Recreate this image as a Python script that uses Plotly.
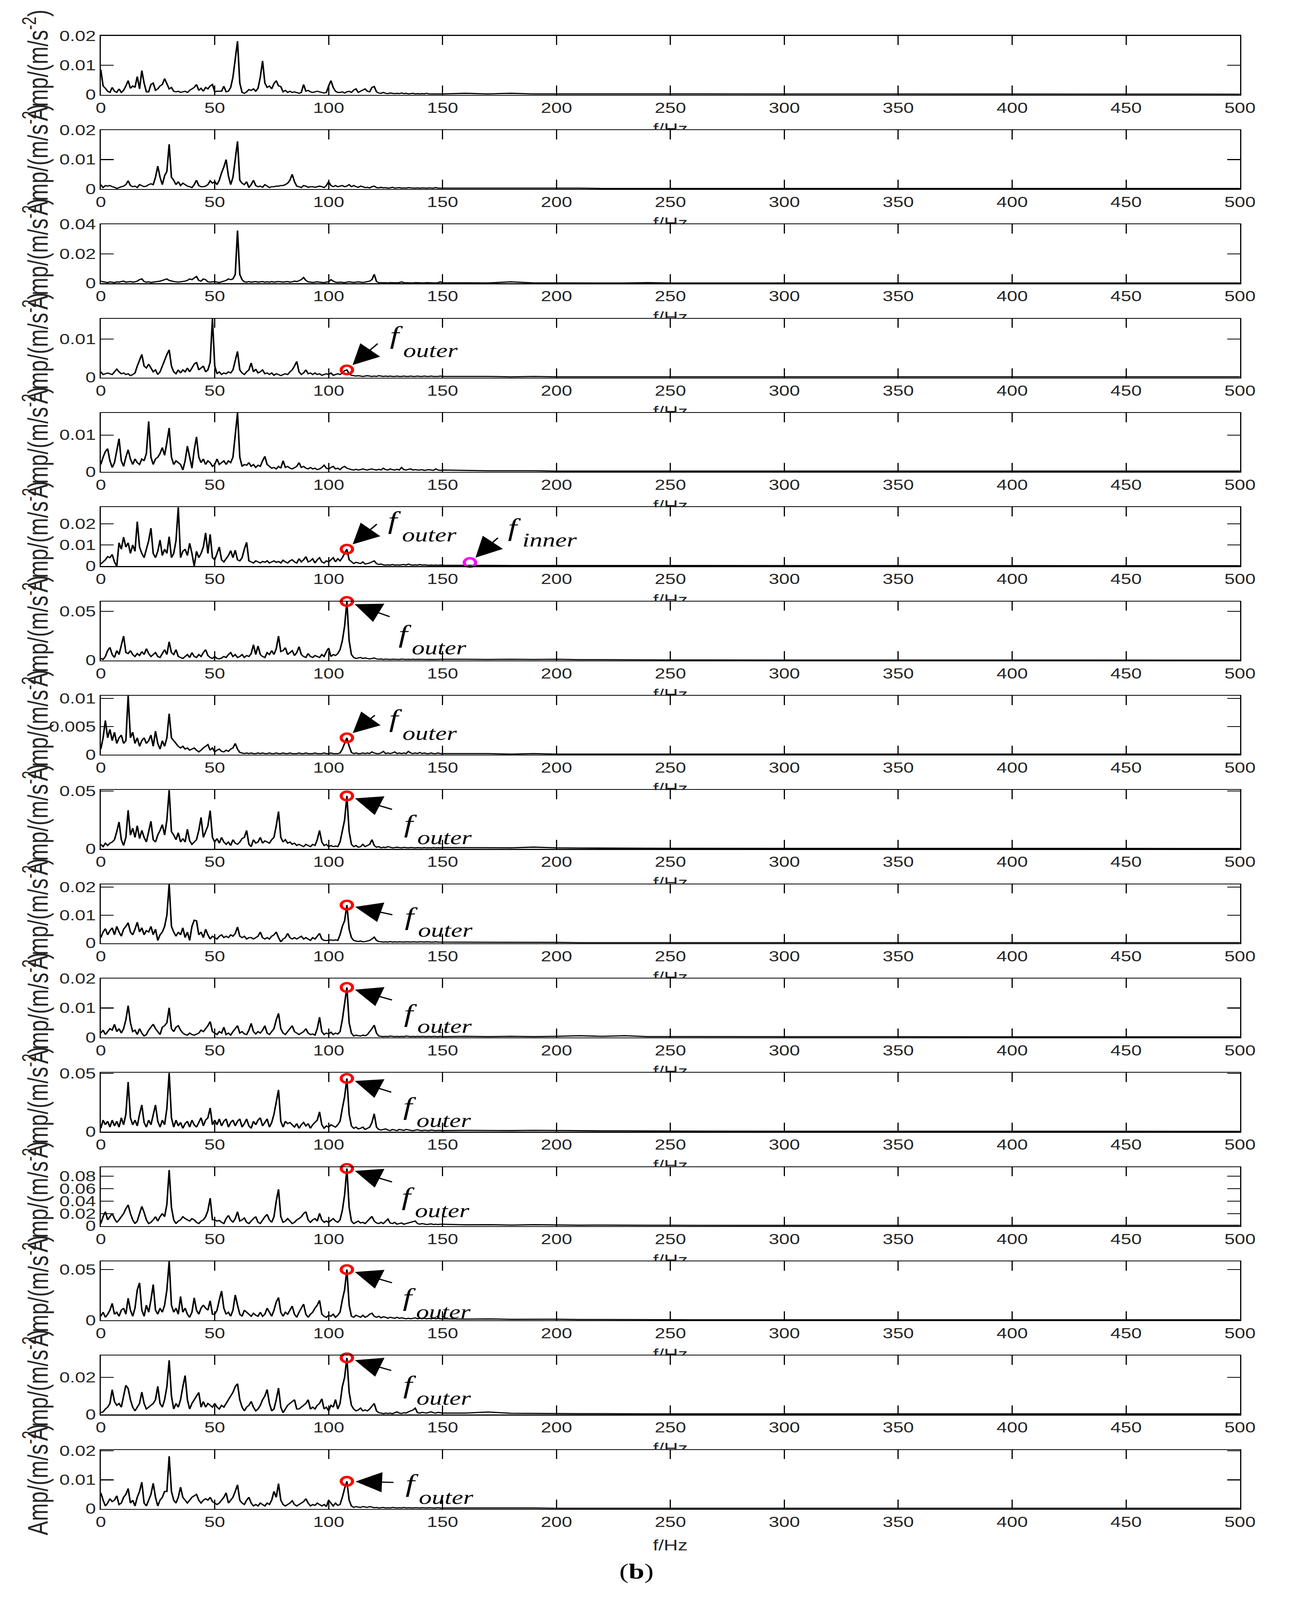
import plotly.graph_objects as go

W, H = 3317, 5403
UNIT = 1e-4  # amplitude values below are in units of 1e-4 m/s^2

FREQ_HEAD = list(range(0, 151))          # Hz, 1 Hz bins
FREQ_TAIL = list(range(160, 501, 10))    # Hz, coarse tail
X_TICKS = list(range(0, 501, 50))

AMP01_HEAD = [85,30,22,12,8,25,12,8,20,8,
              15,30,48,22,30,25,62,20,82,40,
              10,10,35,40,15,20,30,35,55,38,
              20,25,12,10,12,8,10,12,8,15,
              20,25,35,15,22,12,25,20,30,35,
              10,12,12,12,29,10,12,25,60,120,
              182,40,8,5,10,18,15,20,12,22,
              60,115,40,25,30,20,38,48,30,28,
              10,15,8,12,8,10,8,5,8,35,
              12,15,10,8,10,12,10,8,6,8,
              30,48,25,12,8,8,10,6,10,12,
              8,16,20,8,12,15,20,12,10,25,
              28,10,6,5,8,5,4,6,5,4,
              5,4,6,4,5,3,4,5,3,4,
              3,4,3,5,3,3,4,3,3,4,
              3]
AMP01_TAIL = [5,3,5,3,3,3,2,3,2,2, 2,2,2,2,2,2,2,2,2,2, 2,2,2,2,2,2,2,2,2,2, 2,2,2,2,2]

AMP02_HEAD = [15,5,12,10,12,8,6,2,5,8,
              10,15,28,12,8,10,5,15,12,8,
              10,15,18,15,40,78,40,15,45,60,
              152,40,30,15,25,12,20,15,10,8,
              5,15,30,12,8,8,10,15,28,20,
              25,15,30,55,75,100,45,15,40,100,
              162,30,20,15,25,5,15,30,12,8,
              10,6,15,10,5,8,8,10,10,12,
              12,15,20,30,50,25,10,8,5,12,
              10,6,8,8,6,8,10,8,5,12,
              25,12,8,12,8,10,12,8,10,15,
              8,12,8,6,10,8,5,6,4,8,
              10,5,4,6,4,5,3,4,6,3,
              4,5,3,4,3,5,4,3,3,4,
              3,4,3,3,4,3,3,5,3,3,
              3]
AMP02_TAIL = [4,3,4,3,3,3,2,2,2,2, 2,2,2,2,2,2,2,2,2,2, 2,2,2,2,2,2,2,2,2,2, 2,2,2,2,2]

AMP03_HEAD = [15,10,8,5,10,8,5,10,8,12,
              15,8,10,12,8,10,15,25,30,12,
              8,10,6,8,10,12,15,20,25,30,
              20,15,12,10,8,10,12,15,20,30,
              25,35,47,20,15,30,25,10,8,10,
              12,8,6,10,15,20,30,25,30,60,
              358,60,25,10,8,12,8,10,12,8,
              10,12,8,10,8,12,8,10,12,10,
              8,10,12,8,10,15,12,18,25,40,
              20,10,8,6,8,10,8,6,5,8,
              10,25,15,8,6,8,6,5,8,10,
              8,6,8,10,8,6,8,12,15,25,
              61,12,5,4,5,4,3,5,4,3,
              4,5,10,5,4,3,4,3,5,4,
              3,4,3,5,4,3,4,3,4,10,
              4]
AMP03_TAIL = [4,3,10,3,3,3,3,2,5,2, 2,2,2,2,2,2,2,2,2,2, 2,2,2,2,2,2,2,2,2,2, 2,2,2,2,2]

AMP04_HEAD = [15,8,10,12,10,8,15,22,15,10,
              12,8,10,5,8,12,30,45,60,30,
              25,35,25,15,20,8,15,30,45,60,
              72,30,15,10,20,12,20,15,25,15,
              25,35,40,20,25,30,15,20,40,153,
              30,10,15,8,12,10,15,12,20,45,
              68,20,12,8,15,20,38,15,22,12,
              15,20,10,12,8,12,6,10,8,5,
              8,10,8,15,20,30,42,15,8,12,
              20,10,12,8,12,8,10,6,8,10,
              8,12,6,8,10,8,12,18,20,10,
              6,5,4,5,4,3,4,5,4,3,
              4,3,5,4,3,4,3,4,3,3,
              4,3,3,4,3,3,4,3,3,4,
              3,3,4,3,3,4,3,3,3,4,
              3]
AMP04_TAIL = [3,3,2,3,2,2,2,2,2,2, 2,2,2,2,2,2,2,2,2,2, 2,2,2,2,2,2,2,2,2,2, 2,2,2,2,2]

AMP05_HEAD = [20,40,55,63,30,12,25,60,90,30,
              15,40,60,35,20,35,25,20,35,30,
              50,137,40,20,35,40,50,66,45,80,
              119,40,20,30,25,20,5,30,70,40,
              10,60,95,40,25,35,20,30,25,15,
              20,35,20,25,30,20,30,25,40,100,
              160,40,15,20,18,25,15,20,12,18,
              15,30,42,20,15,10,12,8,15,10,
              30,12,15,10,8,12,15,25,12,15,
              10,8,12,8,10,6,8,12,18,10,
              8,12,15,8,10,6,12,15,10,8,
              6,5,7,5,6,8,6,5,7,8,
              6,5,7,5,10,6,5,8,6,5,
              7,5,12,6,5,7,8,5,6,5,
              5,6,4,5,6,5,4,8,5,4,
              5]
AMP05_TAIL = [4,3,3,3,2,2,2,2,2,2, 2,2,2,2,2,2,2,2,2,2, 2,2,2,2,2,2,2,2,2,2, 2,2,2,2,2]

AMP06_HEAD = [10,20,30,45,40,55,20,0,110,80,
              137,90,110,60,100,70,210,90,60,40,
              80,120,179,60,40,70,123,50,80,60,
              139,40,60,120,278,40,70,80,50,108,
              60,0,70,40,60,90,157,60,150,40,
              30,60,90,30,20,35,50,73,40,75,
              30,25,40,80,113,25,20,15,25,20,
              15,22,18,25,15,20,25,18,22,15,
              28,20,15,25,30,20,15,35,20,30,
              45,20,25,35,15,30,40,20,15,25,
              20,30,40,20,35,25,40,60,80,30,
              20,12,18,15,12,20,10,12,15,20,
              25,12,8,10,6,5,6,5,8,5,
              6,5,6,8,5,10,6,5,6,5,
              8,5,6,5,4,5,4,5,4,5,
              4]
AMP06_TAIL = [4,3,3,3,3,2,2,2,2,2, 2,2,2,2,2,2,2,2,2,2, 2,2,2,2,2,2,2,2,2,2, 2,2,2,2,2]

AMP07_HEAD = [20,10,40,100,133,60,30,100,60,150,
              249,80,70,100,60,40,70,50,90,60,
              120,70,40,60,80,40,30,70,110,60,
              190,80,60,110,40,30,20,40,60,30,
              80,40,30,60,40,80,110,50,30,20,
              40,20,15,25,40,30,60,80,40,60,
              30,40,60,30,50,40,70,160,60,147,
              60,40,30,80,60,100,60,120,249,90,
              100,130,60,80,100,50,80,140,60,40,
              30,70,40,30,50,40,30,60,40,90,
              126,40,60,50,70,110,200,350,602,200,
              60,30,20,25,30,20,25,20,15,20,
              25,15,12,15,10,14,12,10,13,11,
              12,10,14,11,10,12,10,13,10,12,
              11,10,12,10,11,10,12,10,11,10,
              12]
AMP07_TAIL = [12,10,12,10,12,8,8,6,6,5, 5,4,4,4,4,4,4,3,3,3, 3,3,3,3,3,3,3,3,3,3, 3,3,3,3,3]

AMP08_HEAD = [10,30,61,30,45,25,40,20,30,35,
              20,25,105,30,40,20,30,15,25,30,
              20,25,35,15,42,20,10,25,15,30,
              73,30,25,20,15,12,15,10,12,8,
              10,12,8,5,8,12,15,18,8,12,
              5,8,10,6,5,8,6,10,12,20,
              10,4,3,2,3,2,3,2,2,3,
              2,3,2,2,3,2,2,3,2,2,
              3,2,2,3,2,2,2,3,2,2,
              3,2,2,2,3,2,2,2,3,2,
              2,3,2,2,2,3,10,20,30,15,
              4,2,3,2,2,3,2,3,2,5,
              3,2,2,3,6,2,3,2,3,5,
              2,3,2,3,2,6,3,2,3,2,
              4,2,3,2,2,3,2,2,3,2,
              2]
AMP08_TAIL = [2,2,1,2,1,1,1,1,1,1, 1,1,1,1,1,1,1,1,1,1, 1,1,1,1,1,1,1,1,1,1, 1,1,1,1,1]

AMP09_HEAD = [40,20,50,30,50,60,80,150,233,80,
              30,100,334,120,180,100,200,90,160,100,
              60,150,239,80,60,120,160,210,120,250,
              509,150,120,80,140,60,90,60,171,70,
              40,60,80,160,272,100,150,200,331,100,
              60,90,50,100,60,40,60,30,80,50,
              40,60,90,100,160,40,20,80,50,60,
              100,50,70,60,50,80,100,200,323,100,
              60,80,50,60,40,50,30,40,30,20,
              40,30,20,40,30,80,160,60,30,40,
              20,30,20,25,20,60,150,250,458,150,
              40,20,30,15,20,40,20,30,40,80,
              30,15,20,10,15,12,20,15,10,12,
              15,12,10,14,12,10,13,11,10,12,
              11,10,12,10,11,10,12,10,11,10,
              12]
AMP09_TAIL = [12,10,10,16,10,8,8,6,6,5, 5,5,4,4,4,4,4,4,4,4, 4,4,4,4,4,4,4,4,4,4, 4,4,4,4,4]

AMP10_HEAD = [20,40,52,30,45,55,30,60,40,25,
              50,60,73,40,30,50,75,40,55,30,
              45,40,60,30,50,10,30,40,60,100,
              210,60,40,25,40,30,55,20,40,10,
              60,82,80,30,40,20,50,30,15,25,
              20,15,25,30,20,25,20,30,25,35,
              58,25,20,25,15,20,20,15,20,25,
              40,20,15,20,15,25,30,40,20,5,
              15,20,35,20,15,20,15,20,25,15,
              20,15,10,20,15,25,35,15,10,10,
              10,12,10,12,10,30,60,80,136,50,
              20,10,8,6,8,5,6,8,10,15,
              22,10,6,5,4,5,4,6,4,5,
              4,5,4,4,5,4,4,5,4,4,
              5,4,4,5,4,4,4,5,4,4,
              4]
AMP10_TAIL = [4,3,4,3,3,2,2,2,2,2, 2,2,2,2,2,2,2,2,2,2, 2,2,2,2,2,2,2,2,2,2, 2,2,2,2,2]

AMP11_HEAD = [15,25,10,20,30,25,45,20,30,15,
              30,60,108,50,20,25,10,30,15,5,
              10,25,35,45,30,20,10,35,40,50,
              101,30,20,35,40,25,15,10,8,15,
              10,8,12,15,25,20,30,40,54,20,
              15,10,20,15,35,10,15,8,20,30,
              40,15,20,12,10,25,48,20,12,20,
              15,25,40,15,10,20,30,60,82,30,
              15,10,20,30,40,20,15,10,15,20,
              30,15,10,12,8,30,69,20,10,15,
              12,18,10,15,12,20,60,120,170,50,
              15,5,8,6,5,8,6,10,20,30,
              42,15,5,4,3,4,3,5,4,3,
              4,3,4,3,5,4,3,4,3,4,
              3,4,3,3,4,3,4,3,3,4,
              3]
AMP11_TAIL = [4,3,4,3,4,6,4,6,3,3, 2,2,2,2,2,2,2,2,2,2, 2,2,2,2,2,2,2,2,2,2, 2,2,2,2,2]

AMP12_HEAD = [30,100,60,90,40,100,50,90,40,120,
              60,150,426,120,60,100,50,150,230,80,
              40,100,60,150,230,90,40,100,60,200,
              505,120,40,100,50,80,30,70,90,40,
              100,60,40,80,120,50,100,120,204,60,
              100,60,110,50,90,110,40,80,100,50,
              90,110,40,70,110,50,30,90,60,100,
              120,50,80,110,40,80,150,250,359,90,
              40,90,70,80,60,40,70,30,60,80,
              50,70,30,60,80,100,171,60,30,50,
              40,60,50,40,60,90,200,300,457,150,
              50,30,40,25,30,40,20,30,40,80,
              154,40,20,15,20,25,15,10,20,15,
              10,20,15,12,20,15,12,10,15,18,
              12,10,14,12,10,15,12,10,12,11,
              10]
AMP12_TAIL = [12,10,10,12,10,8,8,8,6,6, 5,5,5,5,5,4,4,4,4,4, 4,4,4,4,4,4,4,4,4,4, 4,4,4,4,4]

AMP13_HEAD = [40,150,230,100,150,200,120,60,100,150,
              200,280,340,200,100,40,80,200,315,220,
              100,40,60,100,150,80,150,200,150,350,
              900,300,100,40,80,100,150,120,100,80,
              120,100,60,40,80,100,150,250,447,100,
              100,80,90,60,40,120,170,100,60,120,
              230,80,100,130,60,40,80,120,150,60,
              40,100,150,187,100,60,150,400,591,150,
              60,80,120,80,40,60,100,120,150,200,
              230,100,60,100,120,80,204,100,60,80,
              60,90,120,80,60,100,250,500,925,300,
              80,40,60,80,50,60,40,80,120,155,
              80,50,40,60,40,80,113,50,40,60,
              30,40,50,30,40,50,60,70,81,40,
              30,40,30,25,30,35,25,30,25,30,
              30]
AMP13_TAIL = [20,22,16,22,18,14,16,13,12,12, 10,10,10,10,10,10,10,10,10,10, 10,10,10,10,10,10,10,10,10,10, 10,10,10,10,10]

AMP14_HEAD = [40,80,30,60,100,167,60,80,40,100,
              120,60,218,100,40,120,300,369,100,40,
              150,80,200,353,100,60,120,80,150,300,
              581,150,80,120,60,235,80,120,60,30,
              80,222,100,60,120,150,120,100,193,60,
              60,100,200,289,120,60,80,40,100,250,
              150,60,40,100,80,60,40,70,50,40,
              80,40,60,120,80,40,100,180,225,80,
              40,80,60,100,140,60,30,80,120,160,
              60,30,60,80,120,150,197,60,40,30,
              50,40,60,30,50,80,200,300,500,150,
              40,30,50,40,30,50,30,40,60,70,
              40,30,40,25,35,30,20,30,25,20,
              30,20,25,20,15,20,15,20,25,15,
              20,15,20,15,18,15,20,15,18,15,
              15]
AMP14_TAIL = [12,14,10,10,11,8,8,6,6,6, 5,5,5,5,5,5,5,5,5,5, 5,5,5,5,5,5,5,5,5,5, 5,5,5,5,5]

AMP15_HEAD = [10,15,30,40,60,134,70,50,60,40,
              100,158,140,80,40,20,40,60,121,60,
              30,40,50,60,80,152,60,40,80,150,
              292,100,30,60,40,80,150,210,80,30,
              60,80,100,119,40,70,40,60,50,40,
              60,40,30,50,40,60,80,100,120,150,
              166,80,40,20,40,50,71,40,20,30,
              50,80,100,135,60,20,30,80,143,40,
              10,30,50,60,70,80,30,30,40,50,
              60,80,30,40,30,50,60,85,30,40,
              20,50,40,81,30,60,150,200,305,120,
              50,30,20,25,35,20,25,20,30,45,
              60,20,10,8,5,8,6,8,5,10,
              15,8,6,10,8,15,20,25,35,10,
              8,12,10,8,12,15,10,8,12,10,
              8]
AMP15_TAIL = [8,14,7,6,6,5,5,4,4,4, 4,4,4,4,4,4,4,4,4,4, 4,4,4,4,4,4,4,4,4,4, 4,4,4,4,4]

AMP16_HEAD = [55,30,10,20,35,25,30,45,15,20,
              40,50,70,20,30,10,40,60,92,20,
              10,30,50,88,40,10,30,40,60,60,
              181,60,30,20,40,75,40,30,20,30,
              40,45,50,30,20,30,35,30,40,25,
              20,15,20,30,40,55,20,30,40,60,
              83,30,20,15,30,40,20,10,15,10,
              20,15,10,20,15,30,60,40,87,30,
              15,10,15,20,28,15,10,15,20,25,
              35,20,10,15,12,20,15,10,15,8,
              30,20,10,20,12,15,40,70,95,30,
              10,5,8,6,5,8,6,5,8,6,
              4,5,3,4,5,3,4,3,5,4,
              3,4,3,5,3,4,3,3,4,3,
              3,4,3,3,4,3,3,3,4,3,
              3]
AMP16_TAIL = [4,3,3,3,2,2,2,2,2,2, 2,2,2,2,2,2,2,2,2,2, 2,2,2,2,2,2,2,2,2,2, 2,2,2,2,2]

PANELS = [(AMP01_HEAD, AMP01_TAIL), (AMP02_HEAD, AMP02_TAIL), (AMP03_HEAD, AMP03_TAIL),
          (AMP04_HEAD, AMP04_TAIL), (AMP05_HEAD, AMP05_TAIL), (AMP06_HEAD, AMP06_TAIL),
          (AMP07_HEAD, AMP07_TAIL), (AMP08_HEAD, AMP08_TAIL), (AMP09_HEAD, AMP09_TAIL),
          (AMP10_HEAD, AMP10_TAIL), (AMP11_HEAD, AMP11_TAIL), (AMP12_HEAD, AMP12_TAIL),
          (AMP13_HEAD, AMP13_TAIL), (AMP14_HEAD, AMP14_TAIL), (AMP15_HEAD, AMP15_TAIL),
          (AMP16_HEAD, AMP16_TAIL)]

# y-axis upper limits (units 1e-4) and tick values
Y_MAX = [200, 200, 400, 153, 160, 278, 602, 105, 509, 210, 200, 505, 947, 581, 317, 203]
Y_TICKS = [[0, 0.01, 0.02], [0, 0.01, 0.02], [0, 0.02, 0.04], [0, 0.01], [0, 0.01],
           [0, 0.01, 0.02], [0, 0.05], [0, 0.005, 0.01], [0, 0.05], [0, 0.01, 0.02],
           [0, 0.01, 0.02], [0, 0.05], [0, 0.02, 0.04, 0.06, 0.08], [0, 0.05], [0, 0.02],
           [0, 0.01, 0.02]]

OUTER_FREQ = 108          # Hz, marked outer-race fault frequency
INNER_FREQ = 162          # Hz, marked inner-race fault frequency
INNER_AMP = 17            # units 1e-4
INNER_PANEL = 5

# annotation placement (pixels): panel, arrow tail dx,dy, "f" dx,dy, subscript dx,dy
OUTER_MARKS = [
    (3, 80, -90, 127, -110, 214, -59),
    (5, 78, -86, 122, -90, 211, -41),
    (6, 111, 52, 149, 117, 236, 164),
    (7, 73, -78, 125, -58, 212, -8),
    (8, 117, 46, 163, 102, 250, 149),
    (9, 118, 33, 165, 45, 252, 92),
    (10, 117, 43, 163, 94, 250, 139),
    (11, 115, 47, 161, 102, 248, 150),
    (12, 117, 46, 157, 102, 244, 150),
    (13, 117, 45, 160, 101, 247, 150),
    (14, 115, 43, 161, 98, 248, 143),
    (15, 121, 4, 167, 13, 254, 62),
]
INNER_MARK = (INNER_PANEL, 73, -85, 114, -111, 204, -68)

# ---------------- geometry / style ----------------
LEFT_PX, RIGHT_PX = 249, 3212
TOP0_PX, PITCH_PX, PANEL_PX = 96, 321.5, 201
XC_PX = (LEFT_PX + RIGHT_PX) / 2
SANS = "Liberation Sans, Arial, sans-serif"
SERIF = "Liberation Serif, Times New Roman, serif"
TXT = "#262626"
TEXT_DY = -8

fig = go.Figure()
layout = dict(width=W, height=H, margin=dict(l=0, r=0, t=0, b=0, pad=0),
              paper_bgcolor="white", plot_bgcolor="white", showlegend=False)
annotations = []
xdom = [LEFT_PX / W, RIGHT_PX / W]


def fmt(v):
    return "0" if v == 0 else f"{v:g}"


for i in range(16):
    n = "" if i == 0 else str(i + 1)
    top = TOP0_PX + PITCH_PX * i
    bot = top + PANEL_PX
    layout["xaxis" + n] = dict(
        domain=xdom, anchor="y" + n, range=[0, 500], tickmode="array",
        tickvals=X_TICKS, ticktext=[str(v) for v in X_TICKS],
        ticks="inside", ticklen=31, tickwidth=3, tickcolor="black",
        showline=True, linewidth=3, linecolor="black", mirror="ticks",
        showgrid=False, zeroline=False,
        tickfont=dict(family=SANS, size=48, color=TXT))
    layout["yaxis" + n] = dict(
        domain=[1 - bot / H, 1 - top / H], anchor="x" + n,
        range=[0, Y_MAX[i] * UNIT], tickmode="array",
        tickvals=Y_TICKS[i], ticktext=[fmt(v) for v in Y_TICKS[i]],
        ticks="inside", ticklen=33, tickwidth=3, tickcolor="black",
        showline=True, linewidth=3, linecolor="black", mirror="ticks",
        showgrid=False, zeroline=False,
        tickfont=dict(family=SANS, size=48, color=TXT))
    head, tail = PANELS[i]
    fig.add_trace(go.Scatter(
        x=FREQ_HEAD + FREQ_TAIL, y=[v * UNIT for v in head + tail],
        mode="lines", line=dict(color="black", width=4),
        xaxis="x" + n, yaxis="y" + n, hoverinfo="skip"))
    # y-axis title
    annotations.append(dict(
        xref="paper", yref="paper", x=128 / W, y=1 - (top + bot) / 2 / H,
        xanchor="right", yanchor="middle", textangle=-90, showarrow=False,
        text="Amp/(m/s<sup>-2</sup>)", font=dict(family=SANS, size=72, color=TXT)))


def mark(panel, freq, amp, color, sub, tdx, tdy, fdx, fdy, sdx, sdy):
    n = "" if panel == 0 else str(panel + 1)
    fig.add_trace(go.Scatter(
        x=[freq], y=[amp], mode="markers", cliponaxis=False,
        marker=dict(symbol="circle-open", size=29, color=color, line=dict(width=8, color=color)),
        xaxis="x" + n, yaxis="y" + n, hoverinfo="skip"))
    annotations.append(dict(
        xref="x" + n, yref="y" + n, x=freq, y=amp, ax=tdx, ay=tdy,
        axref="pixel", ayref="pixel", text="", showarrow=True, arrowhead=2,
        arrowsize=3.4, arrowwidth=4, arrowcolor="black", standoff=22))
    annotations.append(dict(
        xref="x" + n, yref="y" + n, x=freq, y=amp, xshift=fdx, yshift=-(fdy + TEXT_DY),
        text="<i>f</i>", showarrow=False, xanchor="center", yanchor="middle",
        font=dict(family=SERIF, size=84, color="black")))
    annotations.append(dict(
        xref="x" + n, yref="y" + n, x=freq, y=amp, xshift=sdx, yshift=-(sdy + TEXT_DY),
        text="<i>" + sub + "</i>", showarrow=False, xanchor="center", yanchor="middle",
        font=dict(family=SERIF, size=66, color="black")))


for (p, tdx, tdy, fdx, fdy, sdx, sdy) in OUTER_MARKS:
    amp = PANELS[p][0][FREQ_HEAD.index(OUTER_FREQ)] * UNIT
    mark(p, OUTER_FREQ, amp, "#ff0000", "outer", tdx, tdy, fdx, fdy, sdx, sdy)

p, tdx, tdy, fdx, fdy, sdx, sdy = INNER_MARK
mark(p, INNER_FREQ, INNER_AMP * UNIT, "#ff00ff", "inner", tdx, tdy, fdx, fdy, sdx, sdy)

# "f/Hz" labels of panels 1-15, partly hidden by the next panel (clipped text in helper axes)
for i in range(15):
    k = str(17 + i)
    next_top = TOP0_PX + PITCH_PX * (i + 1)
    layout["xaxis" + k] = dict(domain=[(XC_PX - 150) / W, (XC_PX + 150) / W], range=[0, 1],
                               visible=False, anchor="y" + k)
    layout["yaxis" + k] = dict(domain=[1 - next_top / H, 1 - (next_top - 80) / H], range=[0, 1],
                               visible=False, anchor="x" + k)
    fig.add_trace(go.Scatter(
        x=[0.5], y=[0], mode="text", text=["f/Hz"], textposition="middle center",
        textfont=dict(family=SANS, size=50, color=TXT), cliponaxis=True,
        xaxis="x" + k, yaxis="y" + k, hoverinfo="skip"))

annotations.append(dict(xref="paper", yref="paper", x=XC_PX / W, y=1 - 5243 / H,
                        xanchor="center", yanchor="middle", showarrow=False, text="f/Hz",
                        font=dict(family=SANS, size=50, color=TXT)))
annotations.append(dict(xref="paper", yref="paper", x=1642 / W, y=1 - 5333 / H,
                        xanchor="center", yanchor="middle", showarrow=False, text="(<b>b</b>)",
                        font=dict(family=SERIF, size=72, color="black")))

layout["annotations"] = annotations
fig.update_layout(**layout)

# The browser viewport may be smaller than the requested page size; scale the
# whole figure so that it always fits entirely inside the visible window.
FIT_SCRIPT = """
(function () {
  var gd = document.getElementById('{plot_id}');
  document.documentElement.style.margin = '0';
  document.body.style.margin = '0';
  document.body.style.overflow = 'hidden';
  var sx = Math.min(1, window.innerWidth / %d);
  var sy = Math.min(1, window.innerHeight / %d);
  if (sx < 1 || sy < 1) {
    gd.style.transformOrigin = '0 0';
    gd.style.transform = 'scale(' + sx + ',' + sy + ')';
  }
})();
""" % (W, H)
fig.write_html("out.html", post_script=FIT_SCRIPT, config={"displayModeBar": False})
